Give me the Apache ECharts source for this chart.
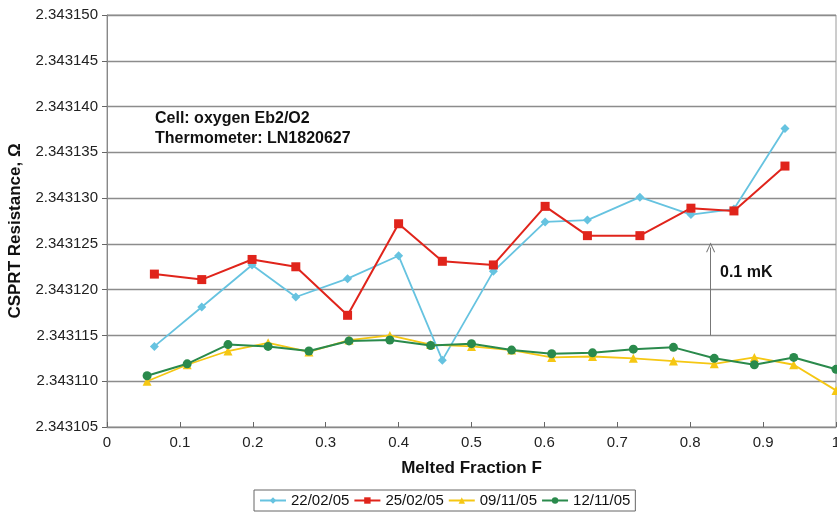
<!DOCTYPE html>
<html>
<head>
<meta charset="utf-8">
<script src="https://cdn.jsdelivr.net/npm/echarts@6/dist/echarts.min.js"></script>
<style>html,body{margin:0;padding:0;background:#fff}#c{width:837px;height:512px}</style>
</head>
<body>
<div id="c"></div>
<script>
// Melted fraction for the February runs (22/02/05 and 25/02/05)
var fracFeb = [0.065, 0.130, 0.199, 0.259, 0.330, 0.400, 0.460, 0.530, 0.601, 0.659, 0.731, 0.801, 0.860, 0.930];
// Melted fraction for the November runs (09/11/05 and 12/11/05)
var fracNov = [0.055, 0.110, 0.166, 0.221, 0.277, 0.332, 0.388, 0.444, 0.500, 0.555, 0.610, 0.666, 0.722, 0.777, 0.833, 0.888, 0.942, 1.000];

var r220205 = [2.3431138, 2.3431181, 2.3431227, 2.3431192, 2.3431212, 2.3431237, 2.3431123, 2.3431220, 2.3431274, 2.3431276, 2.3431301, 2.3431282, 2.3431288, 2.3431376];
var r250205 = [2.3431217, 2.3431211, 2.3431233, 2.3431225, 2.3431172, 2.3431272, 2.3431231, 2.3431227, 2.3431291, 2.3431259, 2.3431259, 2.3431289, 2.3431286, 2.3431335];
var r091105 = [2.3431100, 2.3431118, 2.3431133, 2.3431142, 2.3431132, 2.3431145, 2.3431150, 2.3431140, 2.3431138, 2.3431134, 2.3431126, 2.3431127, 2.3431125, 2.3431122, 2.3431119, 2.3431126, 2.3431118, 2.3431090];
var r121105 = [2.3431106, 2.3431119, 2.3431140, 2.3431138, 2.3431133, 2.3431144, 2.3431145, 2.3431139, 2.3431141, 2.3431134, 2.3431130, 2.3431131, 2.3431135, 2.3431137, 2.3431125, 2.3431118, 2.3431126, 2.3431113];

var seriesNames = ['22/02/05', '25/02/05', '09/11/05', '12/11/05'];
var yTicks = {min: 2.343105, max: 2.343150, step: 0.000005};
// 0.1 mK arrow (from, to) in data units
var arrowFrac = 0.828;
var arrowFrom = 2.343115;
var arrowTo = 2.3431246;

function pairs(xs, ys) { return xs.map(function (x, i) { return [x, ys[i]]; }); }

var chart = echarts.init(document.getElementById('c'), null, {renderer: 'canvas'});
var font = 'Liberation Sans, Arial, sans-serif';
var boldNote = 'bold 16px Liberation Sans, Arial, sans-serif';
chart.setOption({
  backgroundColor: '#ffffff',
  animation: false,
  grid: {left: 107, right: 1, top: 15, bottom: 85, outerBoundsMode: 'none', containLabel: false,
         show: true, borderColor: '#9a9a9a', borderWidth: 1, backgroundColor: '#ffffff'},
  xAxis: {
    type: 'value', min: 0, max: 1, interval: 0.1,
    name: 'Melted Fraction F', nameLocation: 'middle', nameGap: 33,
    nameTextStyle: {fontFamily: font, fontWeight: 'bold', fontSize: 17, color: '#111'},
    axisLine: {show: true, lineStyle: {color: '#888', width: 1}},
    axisTick: {show: true, inside: true, length: 5, lineStyle: {color: '#666'}},
    axisLabel: {fontFamily: font, fontSize: 15, color: '#222', margin: 8},
    splitLine: {show: false}
  },
  yAxis: {
    type: 'value', min: yTicks.min, max: yTicks.max, interval: yTicks.step,
    name: 'CSPRT Resistance, Ω', nameLocation: 'middle', nameGap: 83,
    nameTextStyle: {fontFamily: font, fontWeight: 'bold', fontSize: 17, color: '#111', padding: [0, 20, 0, 0]},
    axisLine: {show: true, lineStyle: {color: '#888', width: 1}},
    axisTick: {show: true, inside: false, length: 5, lineStyle: {color: '#666'}},
    axisLabel: {fontFamily: font, fontSize: 15, color: '#222', margin: 9, formatter: function (v) { return v.toFixed(6); }},
    splitLine: {show: true, lineStyle: {color: '#8c8c8c', width: 1.3}}
  },
  legend: {
    data: seriesNames, bottom: 1, left: 254,
    itemWidth: 26, itemHeight: 8, itemGap: 4,
    borderColor: '#666', borderWidth: 1, borderRadius: 0, padding: [3, 5],
    textStyle: {fontFamily: font, fontSize: 15, color: '#111'}
  },
  series: [
    {name: seriesNames[0], type: 'line', data: pairs(fracFeb, r220205), symbol: 'diamond', symbolSize: 9,
     itemStyle: {color: '#66c3e0'}, lineStyle: {color: '#66c3e0', width: 1.8}, z: 3},
    {name: seriesNames[1], type: 'line', data: pairs(fracFeb, r250205), symbol: 'rect', symbolSize: 9,
     itemStyle: {color: '#e0241b'}, lineStyle: {color: '#e0241b', width: 2}, z: 4,
     markLine: {
       silent: true, symbol: ['none', 'path://M0,10 L5,0 L10,10 L9,10.5 L5,2.2 L1,10.5 Z'], symbolSize: [9, 10], animation: false,
       lineStyle: {color: '#777', width: 1, type: 'solid'}, label: {show: false},
       data: [[{coord: [arrowFrac, arrowFrom]}, {coord: [arrowFrac, arrowTo]}]]
     }},
    {name: seriesNames[2], type: 'line', data: pairs(fracNov, r091105), symbol: 'triangle', symbolSize: 9,
     itemStyle: {color: '#f5c713'}, lineStyle: {color: '#f5c713', width: 1.8}, z: 3},
    {name: seriesNames[3], type: 'line', data: pairs(fracNov, r121105), symbol: 'circle', symbolSize: 9,
     itemStyle: {color: '#2a8a4c'}, lineStyle: {color: '#2a8a4c', width: 2}, z: 4}
  ],
  graphic: [
    {type: 'text', left: 155, top: 111, style: {text: 'Cell: oxygen Eb2/O2', font: boldNote, fill: '#111'}},
    {type: 'text', left: 155, top: 131, style: {text: 'Thermometer: LN1820627', font: boldNote, fill: '#111'}},
    {type: 'text', left: 720, top: 265, style: {text: '0.1 mK', font: boldNote, fill: '#111'}}
  ]
});
</script>
</body>
</html>
